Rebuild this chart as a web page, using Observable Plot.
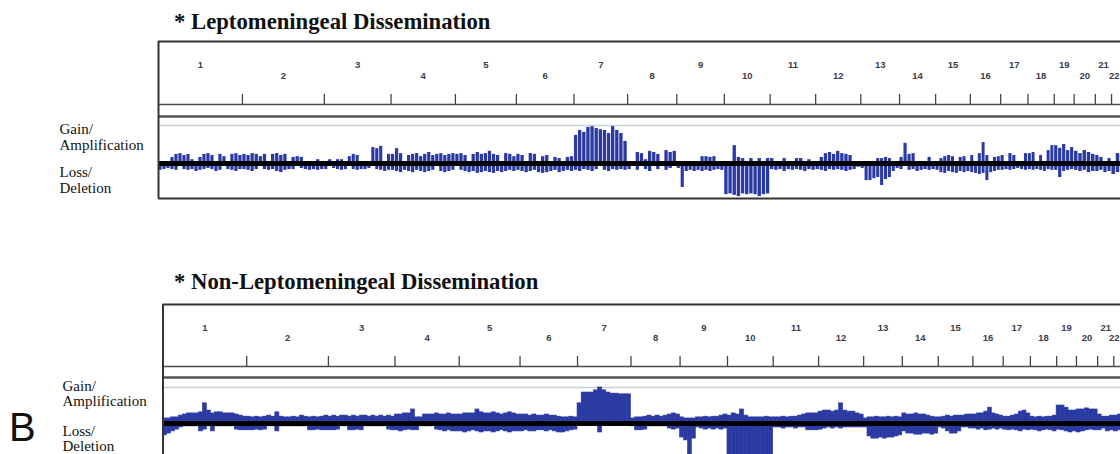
<!DOCTYPE html>
<html><head><meta charset="utf-8">
<script src="https://cdn.jsdelivr.net/npm/d3@7"></script>
<script src="https://cdn.jsdelivr.net/npm/@observablehq/plot@0.6"></script>
<style>
html,body{margin:0;padding:0;background:#fff;}
#wrap{position:relative;width:1120px;height:454px;overflow:hidden;background:#fff;}
.title{position:absolute;font-family:"Liberation Serif","Times New Roman",serif;font-weight:bold;font-size:22.7px;line-height:22px;color:#111;white-space:nowrap;}
.panel{position:absolute;left:0;width:1120px;}
#B{position:absolute;left:9px;top:407px;font-family:"Liberation Sans",Arial,sans-serif;font-size:40px;line-height:40px;color:#111;}
</style></head>
<body><div id="wrap">
<div class="title" style="left:174px;top:11px">* Leptomeningeal Dissemination</div>
<div class="panel" id="p1" style="top:36px"></div>
<div class="title" style="left:174px;top:271px">* Non-Leptomeningeal Dissemination</div>
<div class="panel" id="p2" style="top:299px"></div>
<div id="B">B</div>
</div>
<script>
// chromosomes and their sizes (Mb)
const chroms = ["1","2","3","4","5","6","7","8","9","10","11","12","13","14","15","16","17","18","19","20","21","22"];
const chromLengths = [249,243,198,191,181,171,159,146,141,136,135,134,115,107,103,90,81,78,59,63,48,51];
const sideLabels = ["Gain/\nAmplification", "Loss/\nDeletion"];

// frequency (%) of cases per chromosome sub-bin — leptomeningeal dissemination
const lmdGain = [
 [0,0,0,16,24,26,21,24,10,0,16,24,26,21,0,24,18,0,24,26,21],
 [24,21,26,24,18,24,0,24,26,21,24,0,16,18,16,0,0,0,10,0],
 [0,10,0,10,10,0,18,24,21,0,0,0,42,39,45,0,24],
 [24,39,26,0,21,24,26,18,24,29,21,24,26,21,24,26],
 [24,26,21,0,24,29,24,26,32,24,21,0,26,24,18],
 [24,21,0,26,24,0,18,21,0,16,13,0,16,18],
 [74,87,82,95,97,92,89,87,79,97,87,79,58],
 [0,0,29,26,10,32,29,24,0,34,29,32],
 [0,0,0,0,0,0,18,18,16,18,0,0],
 [0,0,47,16,13,0,13,0,13,0,13],
 [13,0,0,13,0,0,13,13,0,10,0],
 [0,16,26,29,24,32,26,24,21,0,0],
 [0,0,0,0,13,13,16,13,0,0],
 [16,53,24,26,0,0,0,16,0],
 [0,13,18,21,18,0,16,18,0],
 [21,0,26,55,21,0,16,18],
 [21,0,26,21,0,0,26],
 [26,29,0,21,0,34,47],
 [47,40,50,34,42],
 [32,26,34,29,24],
 [21,16,0,13],
 [0,26,26,21]
];
const lmdLoss = [
 [18,16,13,16,18,0,16,18,16,21,18,16,13,16,21,18,0,16,18,21,16],
 [16,18,21,16,0,16,18,16,21,24,18,16,16,0,13,16,18,16,18,16],
 [16,0,13,16,18,16,0,16,18,16,16,13,0,16,18,21,18],
 [18,21,24,18,21,24,18,21,24,21,18,0,21,24,21,18],
 [0,18,21,24,21,26,24,21,24,26,21,24,21,18,21],
 [18,21,24,21,18,24,26,24,21,18,24,21,18,21],
 [18,21,16,18,21,16,0,18,21,16,18,16,18],
 [16,0,18,0,16,21,0,16,0,18,13,0],
 [13,63,21,18,21,18,21,18,21,18,16,18],
 [82,80,84,87,80,82,80,82,87,82,80],
 [16,18,16,21,16,18,16,18,21,16,18],
 [16,18,21,16,18,16,18,21,18,16,10],
 [13,45,45,40,37,58,42,37,21,13],
 [16,0,18,16,21,18,16,18,16],
 [18,24,26,21,24,26,21,24,21],
 [24,26,29,26,45,24,21,18],
 [18,16,18,16,13,16,18],
 [16,18,16,18,21,16,18],
 [18,37,21,18,16],
 [18,21,18,24,21],
 [21,18,24,21],
 [29,24,21,18]
];
// non-leptomeningeal dissemination
const nonGain = [
 [14,14,17,17,22,25,28,28,28,31,56,36,28,31,31,28,28,28,25,22,19],
 [19,17,19,17,19,22,19,31,19,17,17,19,17,22,19,17,19,17,19,22],
 [19,22,19,22,22,19,22,19,22,22,19,22,19,22,19,22,19],
 [25,25,28,28,39,17,17,25,25,25,28,25,25,28,25,25],
 [25,28,28,28,39,31,28,28,31,28,25,28,31,28,25],
 [25,25,22,25,22,22,25,22,22,19,17,17,19,17],
 [56,86,86,86,92,100,92,86,83,83,81,81,81],
 [14,17,17,19,22,19,22,19,22,25,28,25],
 [17,14,14,14,17,17,19,17,19,19,22,25],
 [22,28,25,39,22,17,17,17,17,19,17],
 [17,17,19,17,19,19,22,25,28,28,28],
 [33,36,36,33,36,56,36,33,33,28,25],
 [14,17,17,19,17,17,19,17,19,17],
 [28,25,25,28,25,25,22,19,17],
 [17,19,22,19,22,22,22,25,25],
 [25,28,28,33,44,28,25,22],
 [19,19,22,25,33,36,28],
 [19,17,19,17,19,19,22],
 [50,50,44,36,36],
 [39,39,42,39,39],
 [25,19,19,22],
 [22,25,22,22]
];
const nonLoss = [
 [33,28,22,17,11,8,8,8,8,22,17,8,22,8,8,8,8,8,17,19,19],
 [19,19,17,19,17,8,8,22,8,8,8,8,8,8,8,19,19,17,19,19],
 [19,19,17,8,8,19,19,17,19,8,8,8,8,8,8,17,19],
 [19,22,19,17,19,19,8,8,8,8,17,19,22,19,22,22],
 [22,25,22,19,22,25,22,22,25,22,19,22,25,22,22],
 [22,19,22,22,19,19,22,19,22,25,25,22,19,17],
 [6,6,6,6,6,25,6,6,6,6,6,6,6],
 [8,19,19,17,8,8,8,8,8,14,17,14],
 [39,47,95,42,11,14,17,14,17,14,17,14],
 [90,92,95,92,90,92,95,92,90,92,90],
 [11,11,14,11,11,14,11,11,19,19,19],
 [17,14,11,14,11,14,11,11,11,11,11],
 [11,36,42,42,39,42,39,39,36,33],
 [22,28,28,31,31,28,28,31,28],
 [11,14,22,28,28,22,11,11,14],
 [14,17,14,19,17,14,17,14],
 [17,19,17,19,22,17,19],
 [17,19,22,19,17,19,22],
 [17,19,22,25,22],
 [25,22,19,17,19],
 [19,14,22,19],
 [22,19,17,19]
];

const BLUE = "#2b3aa3";
const starts = [];
{ let acc = 0; for (const L of chromLengths) { starts.push(acc); acc += L; } }
const chromTable = chroms.map((c, i) => ({chrom: c, start: starts[i], end: starts[i] + chromLengths[i], mid: starts[i] + chromLengths[i] / 2, row: i % 2}));
const boundaries = chromTable.map(d => d.end);

function toBins(series) {
  const out = [];
  series.forEach((vals, i) => {
    const w = chromLengths[i] / vals.length;
    vals.forEach((v, j) => out.push({x1: starts[i] + j * w, x2: starts[i] + (j + 1) * w, v}));
  });
  return out;
}

function drawPanel(id, gain, loss, g) {
  const k = g.pxPer100 / 100;
  const yv = px => (g.zero - px) / k;
  const height = g.boxBottom + 5 - g.svgTop;
  const xMax = (1120 - g.left) / g.pxPerMb;
  const edgeRoom = 7 / g.pxPerMb; // a label needs about this much room right of its centre
  const inside = chromTable.filter(d => d.mid + edgeRoom <= xMax);
  const atEdge = chromTable.filter(d => d.mid + edgeRoom > xMax && d.start < xMax);
  const labelFont = {fontFamily: "Liberation Sans, Arial, sans-serif", fontSize: 9.5, fontWeight: 600, fill: "#3c3c4a"};
  const labelY = d => d.row === 0 ? yv(g.oddY) : yv(g.evenY);
  const chart = Plot.plot({
    width: 1120, height,
    marginLeft: g.left, marginRight: 0,
    marginTop: g.boxTop - g.svgTop, marginBottom: 5,
    x: {domain: [0, xMax], axis: null},
    y: {domain: [yv(g.boxBottom), yv(g.boxTop)], axis: null},
    style: {background: "transparent", overflow: "hidden"},
    marks: [
      Plot.ruleY([100], {stroke: "#c5d0d8", strokeWidth: 1.3}),
      Plot.ruleY([yv(g.ruler)], {stroke: "#4a4a4a", strokeWidth: 1.4}),
      Plot.ruleY([yv(g.strip)], {stroke: "#555", strokeWidth: 2.4}),
      Plot.ruleX(boundaries, {y1: () => yv(g.tickTop), y2: () => yv(g.ruler), stroke: "#444", strokeWidth: 1.3}),
      Plot.text(inside, {x: "mid", y: labelY, text: "chrom", ...labelFont}),
      Plot.text(atEdge, {x: () => xMax, y: labelY, text: "chrom", textAnchor: "end", dx: -1, ...labelFont}),
      Plot.rect(toBins(gain), {x1: "x1", x2: "x2", y1: () => 0, y2: "v", fill: BLUE,
        insetLeft: g.inset, insetRight: g.inset, stroke: g.inset ? "none" : BLUE, strokeWidth: 0.6}),
      Plot.rect(toBins(loss), {x1: "x1", x2: "x2", y1: () => 0, y2: d => -d.v, fill: BLUE,
        insetLeft: g.inset, insetRight: g.inset, stroke: g.inset ? "none" : BLUE, strokeWidth: 0.6}),
      Plot.ruleY([0], {stroke: "#000", strokeWidth: 5}),
      Plot.ruleY([yv(g.boxTop), yv(g.boxBottom)], {stroke: "#333", strokeWidth: 2}),
      Plot.ruleX([0], {stroke: "#333", strokeWidth: 2}),
      Plot.text(sideLabels, {frameAnchor: "left", dx: g.labelX - g.left,
        y: (d, i) => i === 0 ? yv(g.gainLabel) : yv(g.lossLabel),
        textAnchor: "start", lineAnchor: "middle", lineHeight: g.lineHeight,
        fontFamily: "Liberation Serif, Times New Roman, serif", fontSize: 15, fill: "#111"})
    ]
  });
  document.getElementById(id).appendChild(chart);
}

drawPanel("p1", lmdGain, lmdLoss, {
  svgTop: 36, boxTop: 41, boxBottom: 198, zero: 163, pxPer100: 38,
  left: 158, pxPerMb: 0.337, ruler: 104, tickTop: 94, strip: 116,
  oddY: 64, evenY: 75, labelX: 59, gainLabel: 136, lossLabel: 179, lineHeight: 1.08, inset: 0.4
});
drawPanel("p2", nonGain, nonLoss, {
  svgTop: 299, boxTop: 304, boxBottom: 459, zero: 423, pxPer100: 36,
  left: 162.5, pxPerMb: 0.3362, ruler: 366, tickTop: 356, strip: 377,
  oddY: 327, evenY: 337.5, labelX: 62, gainLabel: 393, lossLabel: 438, lineHeight: 1.0, inset: 0
});
</script>
</body></html>
